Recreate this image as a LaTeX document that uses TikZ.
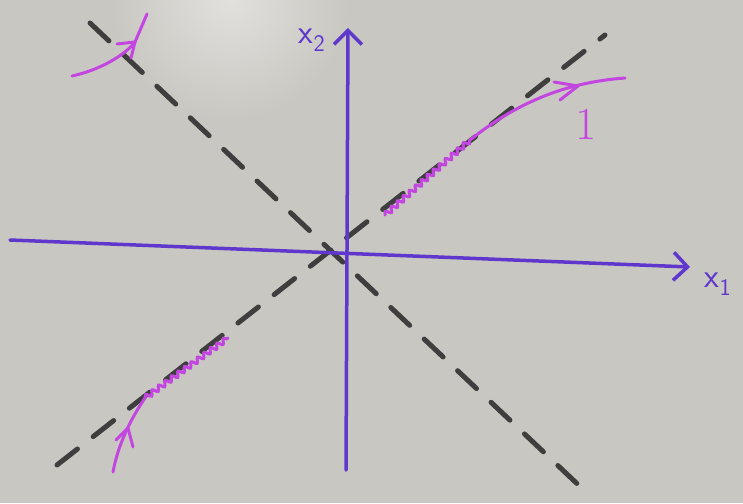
\documentclass[tikz,border=0pt]{standalone}
\usetikzlibrary{decorations.pathmorphing,decorations.markings,arrows.meta}
\definecolor{board}{RGB}{201,199,193}
\definecolor{axisc}{RGB}{95,55,205}
\definecolor{traj}{RGB}{195,70,225}
\definecolor{dashc}{RGB}{62,62,62}
\tikzset{
  axisline/.style={draw=axisc, line width=3.5pt, line cap=round},
  axistip/.style={-{Straight Barb[length=14pt,width=28pt,line width=3.5pt]}},
  eigline/.style={draw=dashc, line width=5pt, line cap=round, dash pattern=on 26pt off 20pt},
  trajline/.style={draw=traj, line width=3pt, line cap=round},
  wavy/.style={decorate, decoration={snake, amplitude=2.4pt, segment length=8pt}},
  lbl/.style={text=axisc, font=\sffamily\fontsize{34}{34}\selectfont, inner sep=0pt},
  chev/.style={draw=traj, line width=3pt, line cap=round, line join=round}
}
\begin{document}
\begin{tikzpicture}[x=1pt,y=-1pt]
\useasboundingbox (0,0) rectangle (743,503);
\fill[board] (0,0) rectangle (743,503);
\shade[inner color=board!55!white, outer color=board] (230,0) circle (120);
% coordinates
\coordinate (O) at (342,250);
\coordinate (L1a) at (57,465);
\coordinate (L1b) at (605,35);
\coordinate (L2a) at (90,23);
\coordinate (L2b) at (588,494);
\coordinate (H0) at (10,240);
\coordinate (H1) at (690,267);
\coordinate (V0) at (346,470);
\coordinate (V1) at (348,28);
% dashed eigen-lines
\draw[eigline] (L1a) -- (L1b);
\draw[eigline] (L2a) -- (L2b);
% axes
\draw[axisline, axistip] (H0) -- (H1);
\draw[axisline, axistip] (V0) -- (V1);
\node[lbl] (x1) at (718,284) {x\textsubscript{1}};
\node[lbl] (x2) at (312,40) {x\textsubscript{2}};
% trajectory top-left
\coordinate (A0) at (72,76);
\coordinate (A1) at (135,42);
\coordinate (A2) at (147,14);
\draw[trajline] (A0) .. controls (100,70) and (125,55) .. (A1) -- (A2);
\draw[chev] (117,44) -- (A1) -- (131,58);
% trajectory top-right
\coordinate (B0) at (385,215);
\coordinate (B1) at (470,140);
\coordinate (B2) at (625,78);
\draw[trajline, wavy] (B0) -- (B1);
\draw[trajline] (B1) .. controls (520,100) and (570,82) .. (B2);
\draw[chev] (554,82) -- (578,86) -- (560,100);
\node[text=traj, font=\fontsize{46}{46}\selectfont, inner sep=0pt] (one) at (586,124) {1};
% trajectory bottom-left
\coordinate (C0) at (113,472);
\coordinate (C1) at (145,398);
\coordinate (C2) at (228,338);
\draw[trajline] (C0) .. controls (118,445) and (130,420) .. (C1);
\draw[trajline, wavy] (C1) -- (C2);
\draw[chev] (116,440) -- (128,428) -- (133,447);
\end{tikzpicture}
\end{document}
